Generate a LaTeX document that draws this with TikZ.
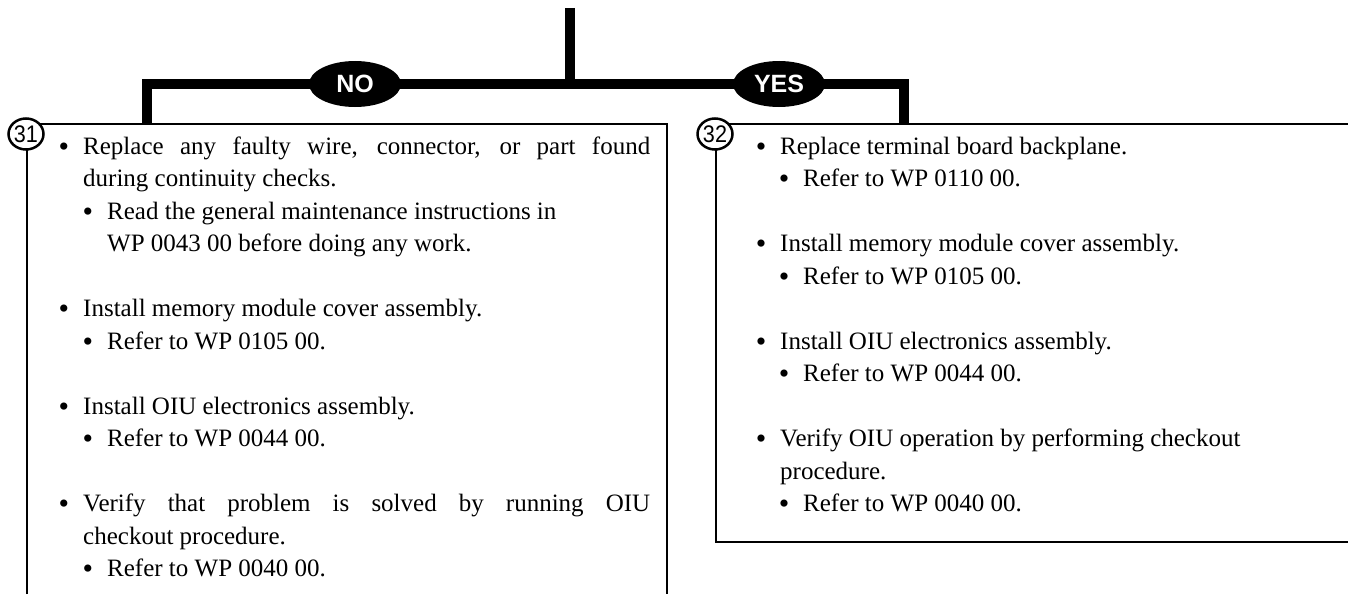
\documentclass[tikz,border=0pt]{standalone}
\usepackage{fontspec}
\setmainfont{Liberation Serif}
\setsansfont{Liberation Sans}
\newfontfamily\numfont[FakeStretch=0.9]{Liberation Sans}
\usetikzlibrary{shapes.geometric, calc}

\begin{document}
\begin{tikzpicture}[x=1pt, y=-1pt, line join=miter,
        trunk/.style={line width=10pt},
        frame/.style={line width=2.8pt},
        answer/.style={ellipse, fill=black, inner sep=0pt, minimum width=92pt,
            minimum height=46pt, text=white, font=\sffamily\bfseries\fontsize{25}{25}\selectfont},
        stepnum/.style={ellipse, draw, line width=2.5pt, fill=white, inner sep=0pt,
            minimum width=35pt, minimum height=31pt, font=\numfont\fontsize{24}{24}\selectfont},
        txt/.style={anchor=base west, inner sep=0pt, font=\fontsize{25}{30}\selectfont},
        dot/.style={anchor=base, inner sep=0pt, font=\fontsize{30}{30}\selectfont}]
    \useasboundingbox (0,0) rectangle (1348,594);
    % decision trunk and the two branches
    \coordinate (top) at (570,8);
    \coordinate (split) at (570,84);
    \coordinate (nodrop) at (147,124);
    \coordinate (yesdrop) at (904,124);
    \draw[trunk] (top) -- (split);
    \draw[trunk] (nodrop) |- (yesdrop |- split) -- (yesdrop);
    \node[answer] (no) at (355,84) {NO};
    \node[answer] (yes) at (779,84) {YES};
    % step boxes
    \draw[frame] (27,594) -- (27,124) -- (667,124) -- (667,594);
    \draw[frame] (1348,124) -- (716,124) -- (716,542) -- (1348,542);
    \node[stepnum] (s31) at (26,134) {31};
    \node[stepnum] (s32) at (715,134) {32};
    % step 31
    \foreach \row/\x/\bul/\txt [count=\i] in {
        0/83/1/{\makebox[567pt][s]{Replace any faulty wire, connector, or part found}},
        1/83/0/during continuity checks.,
        2/107/1/Read the general maintenance instructions in,
        3/107/0/WP 0043 00 before doing any work.,
        5/83/1/Install memory module cover assembly.,
        6/107/1/Refer to WP 0105 00.,
        8/83/1/Install OIU electronics assembly.,
        9/107/1/Refer to WP 0044 00.,
        11/83/1/{\makebox[567pt][s]{Verify that problem is solved by running OIU}},
        12/83/0/checkout procedure.,
        13/107/1/Refer to WP 0040 00.}{
        \node[txt] (L\i) at (\x,{154+32.5*\row}) {\txt};
        \ifnum\bul=1 \node[dot] (Ld\i) at ($(L\i.base west)+(-19,2)$) {\textbullet};\fi
    }
    % step 32
    \foreach \row/\x/\bul/\txt [count=\i] in {
        0/780/1/Replace terminal board backplane.,
        1/803/1/Refer to WP 0110 00.,
        3/780/1/Install memory module cover assembly.,
        4/803/1/Refer to WP 0105 00.,
        6/780/1/Install OIU electronics assembly.,
        7/803/1/Refer to WP 0044 00.,
        9/780/1/Verify OIU operation by performing checkout,
        10/780/0/procedure.,
        11/803/1/Refer to WP 0040 00.}{
        \node[txt] (R\i) at (\x,{154+32.5*\row}) {\txt};
        \ifnum\bul=1 \node[dot] (Rd\i) at ($(R\i.base west)+(-19,2)$) {\textbullet};\fi
    }
\end{tikzpicture}
\end{document}
